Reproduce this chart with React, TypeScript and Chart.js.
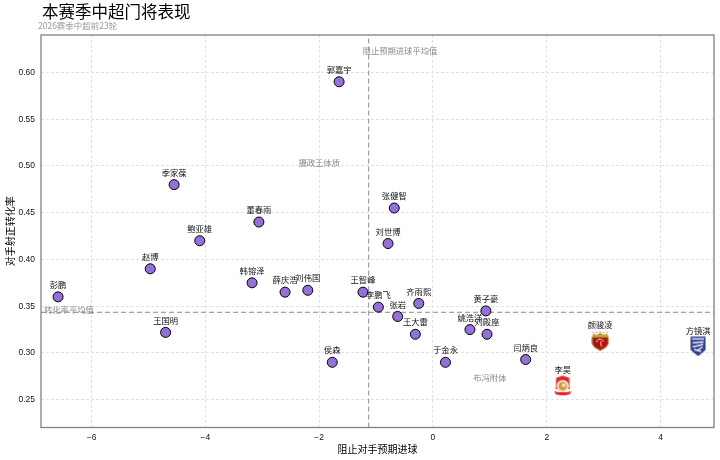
import React, { useEffect, useRef } from "react";
import { Chart, registerables } from "chart.js";

Chart.register(...registerables);

const titleText = "本赛季中超门将表现";
const subtitleText = "2026赛季中超前23轮";
const xAxisTitle = "阻止对手预期进球";
const yAxisTitle = "对手射正转化率";

const names = ["郭嘉宇", "季家葆", "董春雨", "张健智", "刘世博", "鲍亚雄", "赵博", "彭鹏", "韩镕泽", "薛庆浩", "刘伟国", "王智峰", "李鹏飞", "张岩", "齐雨熙", "黄子豪", "王大雷", "姚浩洋", "刘殿座", "于金永", "闫炳良", "王国明", "侯森"];
const prevented = [-1.65, -4.55, -3.06, -0.68, -0.79, -4.1, -4.97, -6.59, -3.18, -2.6, -2.2, -1.23, -0.96, -0.62, -0.25, 0.93, -0.31, 0.65, 0.95, 0.22, 1.63, -4.7, -1.77];
const conversion = [0.59, 0.48, 0.44, 0.455, 0.417, 0.42, 0.39, 0.36, 0.375, 0.365, 0.367, 0.365, 0.349, 0.339, 0.353, 0.345, 0.32, 0.325, 0.32, 0.29, 0.293, 0.322, 0.29];

const crestNames = ["颜骏凌", "方镜淇", "李昊"];
const crestPrevented = [2.94, 4.66, 2.28];
const crestConversion = [0.313, 0.307, 0.265];

const meanPrevented = -1.13;
const meanConversion = 0.3435;
const xRange = [-6.89, 4.94];
const yRange = [0.2203, 0.64];

const noteTexts = ["阻止预期进球平均值", "摄政王体质", "转化率平均值", "布冯附体"];
const noteX = [-0.58, -2.0, -6.4, 1.0];
const noteY = [0.6235, 0.5038, 0.3462, 0.2731];

const CJK = '"Noto Sans CJK SC", "Noto Sans", sans-serif';
const LATIN = '"Liberation Sans", Arial, sans-serif';

function makeCanvas(w: number, h: number, draw: (c: CanvasRenderingContext2D) => void) {
  const canvas = document.createElement("canvas");
  canvas.width = w;
  canvas.height = h;
  draw(canvas.getContext("2d")!);
  return canvas;
}

function portCrest() {
  return makeCanvas(18, 20, (c) => {
    c.fillStyle = "#c9a13c";
    c.beginPath();
    c.moveTo(0.5, 7);
    c.lineTo(2, 2.5);
    c.lineTo(5.5, 4);
    c.lineTo(9, 1.5);
    c.lineTo(12.5, 4);
    c.lineTo(16, 2.5);
    c.lineTo(17.5, 7);
    c.closePath();
    c.fill();
    c.fillStyle = "#e8453a";
    [2, 5.5, 9, 12.5, 16].forEach((x, i) => c.fillRect(x - 0.5, i === 2 ? 0.2 : 1, 1, 1));
    c.fillStyle = "#b01212";
    c.strokeStyle = "#a8801f";
    c.lineWidth = 1;
    c.beginPath();
    c.moveTo(1, 6.5);
    c.lineTo(17, 6.5);
    c.lineTo(17, 13);
    c.quadraticCurveTo(15.5, 17, 9, 19.5);
    c.quadraticCurveTo(2.5, 17, 1, 13);
    c.closePath();
    c.fill();
    c.stroke();
    c.strokeStyle = "#f4d6c8";
    c.lineWidth = 1;
    c.beginPath();
    c.arc(9, 12, 3.6, Math.PI * 1.05, Math.PI * 1.9);
    c.moveTo(9.5, 10.5);
    c.lineTo(10, 15.5);
    c.stroke();
  });
}

function blueCrest() {
  return makeCanvas(16, 20, (c) => {
    c.fillStyle = "#2f3d92";
    c.beginPath();
    c.moveTo(0.5, 0.5);
    c.lineTo(15.5, 0.5);
    c.lineTo(15.5, 13.5);
    c.lineTo(8, 19.8);
    c.lineTo(0.5, 13.5);
    c.closePath();
    c.fill();
    c.fillStyle = "#ffffff";
    c.fillRect(2, 2, 12, 1.2);
    c.strokeStyle = "#eef0fa";
    c.lineWidth = 1.5;
    c.beginPath();
    c.moveTo(2.5, 6.5);
    c.lineTo(13.5, 5.5);
    c.moveTo(2.5, 10.5);
    c.lineTo(13, 8);
    c.moveTo(12.5, 10.5);
    c.lineTo(6.5, 14.5);
    c.moveTo(4, 13);
    c.lineTo(11, 15);
    c.stroke();
  });
}

function redCrest() {
  return makeCanvas(18, 21, (c) => {
    c.fillStyle = "#e5252a";
    c.beginPath();
    c.moveTo(2.5, 2.5);
    c.lineTo(9, 0.5);
    c.lineTo(15.5, 2.5);
    c.lineTo(16, 14);
    c.lineTo(2, 14);
    c.closePath();
    c.fill();
    c.fillStyle = "#f8e6d2";
    c.beginPath();
    c.arc(9, 11, 6.2, 0, Math.PI * 2);
    c.fill();
    c.fillStyle = "#d39a35";
    c.beginPath();
    c.arc(9, 11, 4.2, 0, Math.PI * 2);
    c.fill();
    c.fillStyle = "#f6f1e6";
    c.beginPath();
    c.arc(10, 10, 1.8, 0, Math.PI * 2);
    c.fill();
    c.fillStyle = "#ee1c25";
    c.beginPath();
    c.moveTo(0.5, 16);
    c.lineTo(5, 17);
    c.lineTo(13, 17);
    c.lineTo(17.5, 16);
    c.lineTo(16, 19);
    c.lineTo(12, 20);
    c.lineTo(6, 20);
    c.lineTo(2, 19);
    c.closePath();
    c.fill();
  });
}

const textPlugin = {
  id: "texts",
  afterDatasetsDraw(chart: any) {
    const { ctx, scales } = chart;
    ctx.save();
    ctx.textAlign = "center";
    ctx.textBaseline = "middle";
    ctx.font = `8.3px ${CJK}`;
    ctx.fillStyle = "#8a8a8a";
    noteTexts.forEach((t, i) => {
      ctx.fillText(t, scales.x.getPixelForValue(noteX[i]), scales.y.getPixelForValue(noteY[i]));
    });
    ctx.fillStyle = "#111111";
    chart.getDatasetMeta(1).data.forEach((el: any, i: number) => {
      ctx.fillText(crestNames[i], el.x, el.y - 16);
    });
    chart.getDatasetMeta(0).data.forEach((el: any, i: number) => {
      ctx.fillText(names[i], el.x, el.y - 12);
    });
    ctx.restore();
  },
  afterDraw(chart: any) {
    const { ctx, chartArea: a } = chart;
    ctx.save();
    ctx.strokeStyle = "#808080";
    ctx.lineWidth = 1.3;
    ctx.strokeRect(a.left, a.top, a.right - a.left, a.bottom - a.top);
    ctx.textBaseline = "middle";
    ctx.textAlign = "left";
    ctx.fillStyle = "#000000";
    ctx.font = `16.5px ${CJK}`;
    ctx.fillText(titleText, 42, 12);
    ctx.fillStyle = "#999999";
    ctx.font = `8.5px ${CJK}`;
    ctx.fillText(subtitleText, 38, 26);
    ctx.restore();
  },
};

export default function App() {
  const ref = useRef<HTMLCanvasElement>(null);
  useEffect(() => {
    document.body.style.margin = "0";
    const dashGrid = { color: "#e2e2e2", lineWidth: 1, drawTicks: false };
    const chart = new Chart(ref.current!, {
      type: "scatter",
      data: {
        datasets: [
          {
            label: "门将",
            data: prevented.map((x, i) => ({ x, y: conversion[i] })),
            backgroundColor: "#9370DB",
            borderColor: "#000000",
            borderWidth: 1,
            pointRadius: 5,
          },
          {
            label: "队徽门将",
            data: crestPrevented.map((x, i) => ({ x, y: crestConversion[i] })),
            pointStyle: [portCrest(), blueCrest(), redCrest()],
            pointRadius: 8,
          },
          {
            label: "阻止预期进球平均值",
            data: [{ x: meanPrevented, y: yRange[0] }, { x: meanPrevented, y: yRange[1] }],
            showLine: true,
            pointRadius: 0,
            borderColor: "#8c8c8c",
            borderWidth: 1,
            borderDash: [5, 3],
          },
          {
            label: "转化率平均值",
            data: [{ x: xRange[0], y: meanConversion }, { x: xRange[1], y: meanConversion }],
            showLine: true,
            pointRadius: 0,
            borderColor: "#8c8c8c",
            borderWidth: 1,
            borderDash: [5, 3],
          },
        ],
      },
      options: {
        responsive: false,
        animation: false,
        layout: { autoPadding: false, padding: { top: 35, right: 6, left: 0, bottom: 0 } },
        plugins: { legend: { display: false }, tooltip: { enabled: false }, title: { display: false } },
        scales: {
          x: {
            type: "linear",
            min: xRange[0],
            max: xRange[1],
            afterFit: (s: any) => { s.height = 32.5; },
            border: { display: false, dash: [3, 2] },
            grid: dashGrid,
            ticks: {
              stepSize: 2,
              includeBounds: false,
              padding: 5,
              color: "#111111",
              maxRotation: 0,
              font: { family: LATIN, size: 8.5 },
              callback: (v: any) => String(v).replace("-", "−"),
            },
            title: { display: true, text: xAxisTitle, color: "#000000", padding: { top: 2, bottom: 5 }, font: { family: CJK, size: 10 } },
          },
          y: {
            type: "linear",
            min: yRange[0],
            max: yRange[1],
            afterFit: (s: any) => { s.width = 41; },
            border: { display: false, dash: [3, 2] },
            grid: dashGrid,
            ticks: {
              stepSize: 0.05,
              includeBounds: false,
              padding: 6,
              color: "#111111",
              font: { family: LATIN, size: 8.5 },
              callback: (v: any) => Number(v).toFixed(2),
            },
            title: { display: true, text: yAxisTitle, color: "#000000", padding: { top: 4, bottom: 2 }, font: { family: CJK, size: 10 } },
          },
        },
      } as any,
      plugins: [textPlugin],
    });
    return () => chart.destroy();
  }, []);
  return (
    <div style={{ position: "absolute", left: 0, top: 0, width: 720, height: 460, background: "#ffffff" }}>
      <canvas ref={ref} width={720} height={460} style={{ display: "block" }} />
    </div>
  );
}
